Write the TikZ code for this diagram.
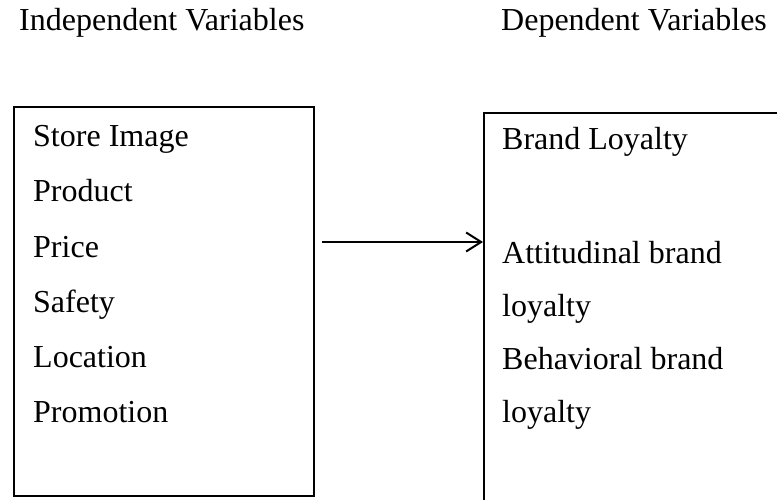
\documentclass[tikz,border=0pt]{standalone}
\usepackage{fontspec}
\setmainfont{Liberation Serif}
\usetikzlibrary{arrows.meta}
\tikzset{
  varbox/.style={draw, line width=1.8pt, inner sep=0pt, anchor=north west},
  item/.style={anchor=base west, inner sep=0pt, font=\fontsize{32}{38}\selectfont},
  heading/.style={item},
}
\begin{document}
\begin{tikzpicture}[x=1pt,y=-1pt]
\useasboundingbox (0,0) rectangle (777,500);
\clip (0,0) rectangle (777,500);
%% headings
\node[heading] (ivtitle) at (19,31) {Independent Variables};
\node[heading] (dvtitle) at (501,31) {Dependent Variables};
%% boxes
\node[varbox, minimum width=300pt, minimum height=389pt] (ivbox) at (13,106) {};
\node[varbox, minimum width=330pt, minimum height=420pt] (dvbox) at (483,112) {};
%% independent variables
\foreach \v [count=\i] in {Store Image,Product,Price,Safety,Location,Promotion}
  \node[item] (iv\i) at (33,{147+55*(\i-1)}) {\v};
%% dependent variables
\node[item] (dv1) at (502,150) {Brand Loyalty};
\foreach \v [count=\i from 2] in {Attitudinal brand,loyalty,Behavioral brand,loyalty}
  \node[item] (dv\i) at (502,{263+53*(\i-2)}) {\v};
%% link
\coordinate (start) at (322,242);
\draw[-{Straight Barb[length=15pt,width=19pt]}, line width=2pt] (start) -- (start -| dvbox.west);
\end{tikzpicture}
\end{document}
